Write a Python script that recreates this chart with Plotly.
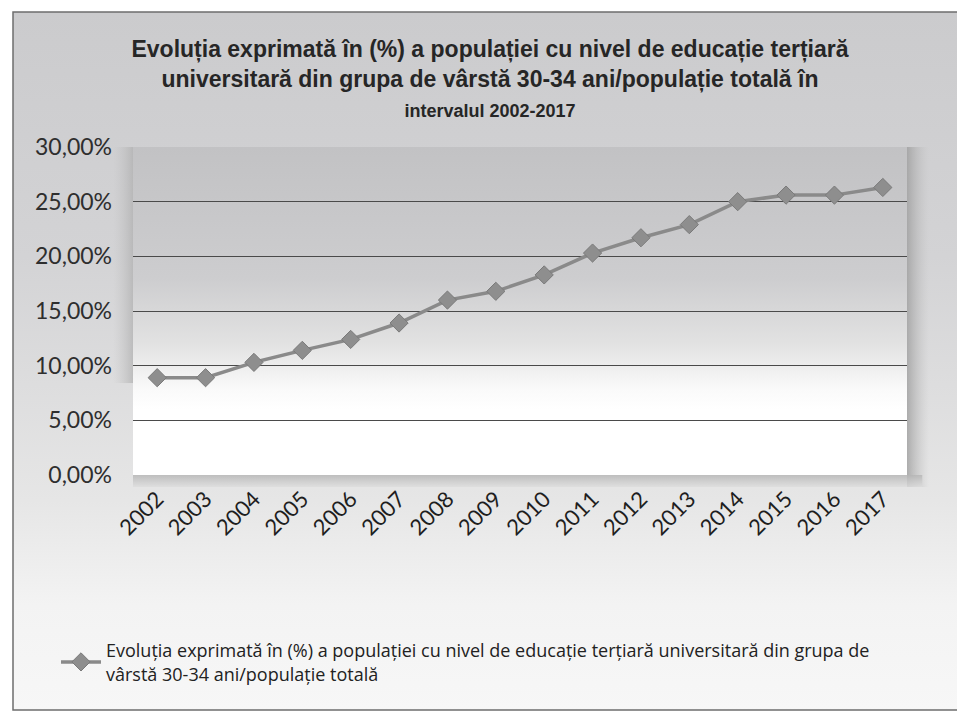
import base64
import plotly.graph_objects as go

years = [str(y) for y in range(2002, 2018)]
values = [8.9, 8.9, 10.3, 11.4, 12.4, 13.9, 16.0, 16.8, 18.3, 20.3, 21.7, 22.9, 25.0, 25.6, 25.6, 26.3]
y_tickvals = [0, 5, 10, 15, 20, 25, 30]
y_ticktext = ["0,00%", "5,00%", "10,00%", "15,00%", "20,00%", "25,00%", "30,00%"]

series_name = ("Evoluția exprimată în (%) a populației cu nivel de educație terțiară universitară din grupa de"
               "<br>vârstă 30-34 ani/populație totală")
title_text = ("<b>Evoluția exprimată în (%) a populației cu nivel de educație terțiară</b><br>"
              "<b>universitară din grupa de vârstă 30-34 ani/populație totală în</b><br>"
              "<span style='font-size:18px'><b>intervalul 2002-2017</b></span>")


def grad(stops):
    st = "".join(f'<stop offset="{o}" stop-color="{c}"/>' for o, c in stops)
    svg = ('<svg xmlns="http://www.w3.org/2000/svg" width="100" height="100" preserveAspectRatio="none">'
           f'<defs><linearGradient id="g" x1="0" y1="0" x2="0" y2="1">{st}</linearGradient></defs>'
           '<rect width="100" height="100" fill="url(#g)"/></svg>')
    return "data:image/svg+xml;base64," + base64.b64encode(svg.encode()).decode()


def hgrad(stops):
    st = "".join(f'<stop offset="{o}" stop-color="{c}" stop-opacity="{a}"/>' for o, c, a in stops)
    svg = ('<svg xmlns="http://www.w3.org/2000/svg" width="100" height="100" preserveAspectRatio="none">'
           f'<defs><linearGradient id="g" x1="0" y1="0" x2="1" y2="0">{st}</linearGradient></defs>'
           '<rect width="100" height="100" fill="url(#g)"/></svg>')
    return "data:image/svg+xml;base64," + base64.b64encode(svg.encode()).decode()


W, H = 957, 714
ml, mr, mt, mb = 133, 50, 147, 239
pw, ph = W - ml - mr, H - mt - mb


def px(xp):
    return (xp - ml) / pw


def py(yp):
    return 1 - (yp - mt) / ph


fig = go.Figure()
fig.add_trace(go.Scatter(
    x=years, y=values, mode="lines+markers", name=series_name,
    line=dict(color="#8a8a8a", width=3.5),
    marker=dict(symbol="diamond", size=14, color="#8e8e8e", line=dict(color="#7a7a7a", width=1)),
    showlegend=True,
))

frame_l, frame_t, frame_b = 13, 12, 710

fig.update_layout(
    width=W, height=H,
    margin=dict(l=ml, r=mr, t=mt, b=mb),
    paper_bgcolor="#ffffff",
    plot_bgcolor="rgba(0,0,0,0)",
    title=dict(text=title_text, x=490 / W, xanchor="center", yref="container", y=1 - 57 / H, yanchor="top",
               font=dict(family="Liberation Sans, Arial", size=23, color="#262626")),
    xaxis=dict(type="category", range=[-0.5, 15.5], tickangle=-45, showgrid=False,
               showline=False, ticks="", zeroline=False, ticklabelstandoff=6,
               tickfont=dict(family="Lato, Open Sans", size=22, color="#1e1e1e")),
    yaxis=dict(range=[0, 30], tickvals=y_tickvals, ticktext=y_ticktext, showgrid=True,
               gridcolor="#4a4a4a", gridwidth=1.2, zeroline=False, showline=False,
               ticklabelstandoff=20,
               tickfont=dict(family="Lato, Open Sans", size=23, color="#2e2e2e"), ticklen=0),
    legend=dict(x=px(56), xanchor="left", y=py(632), yanchor="top",
                bgcolor="rgba(0,0,0,0)", font=dict(family="Open Sans, Lato", size=18, color="#222"),
                itemwidth=40),
    images=[
        dict(source=grad([(0, "#cbcbcd"), (0.35, "#d3d3d5"), (0.7, "#e6e6e6"), (0.85, "#f3f3f3"), (1, "#f7f7f7")]),
             xref="paper", yref="paper", x=px(frame_l), y=py(frame_t), sizex=(W + 10 - frame_l) / pw,
             sizey=(frame_b - frame_t) / ph, sizing="stretch", layer="below", xanchor="left", yanchor="top"),
        dict(source=hgrad([(0, "#9a9a9a", 0.75), (1, "#bdbdbd", 0.0)]),
             xref="paper", yref="paper", x=1, y=1.0, sizex=22 / pw, sizey=(ph + 12) / ph,
             sizing="stretch", layer="below", xanchor="left", yanchor="top"),
        dict(source=hgrad([(0, "#c0c0c0", 0.0), (1, "#a8a8a8", 0.6)]),
             xref="paper", yref="paper", x=0, y=1.0, sizex=20 / pw, sizey=0.72,
             sizing="stretch", layer="below", xanchor="right", yanchor="top"),
        dict(source=grad([(0, "#b5b5b5"), (1, "#dedede")]),
             xref="paper", yref="paper", x=0, y=0, sizex=1.02, sizey=12 / ph,
             sizing="stretch", layer="below", xanchor="left", yanchor="top", opacity=0.8),
        dict(source=grad([(0, "#c2c2c4"), (0.4, "#cdcdcf"), (0.6, "#e2e2e2"), (0.74, "#fafafa"), (0.8, "#ffffff"), (1, "#ffffff")]),
             xref="paper", yref="paper", x=0, y=1, sizex=1, sizey=1,
             sizing="stretch", layer="below", xanchor="left", yanchor="top"),
    ],
    shapes=[
        dict(type="rect", xref="paper", yref="paper", x0=px(frame_l), x1=px(W + 10),
             y0=py(frame_b), y1=py(frame_t), line=dict(color="#6e6e6e", width=1.5),
             fillcolor="rgba(0,0,0,0)", layer="below"),
    ],
)

fig.write_html("out.html", config={"displayModeBar": False},
               post_script="document.body.style.margin='0';")
